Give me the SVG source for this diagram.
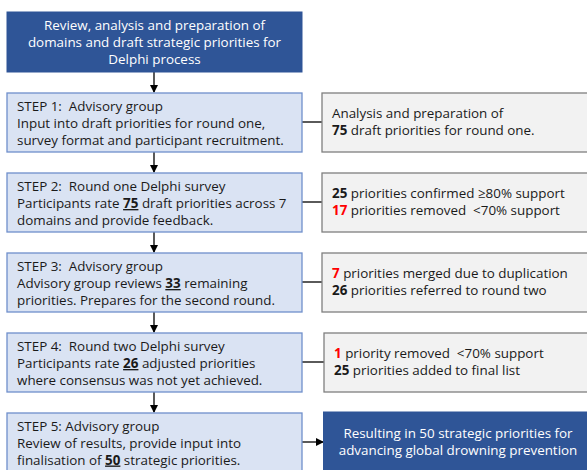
<svg xmlns="http://www.w3.org/2000/svg" width="587" height="470" viewBox="0 0 587 470">
<style>
text{font-family:"Open Sans","Noto Sans","DejaVu Sans",sans-serif;font-size:13.4px;fill:#1a1a1a;white-space:pre}
.hdr{fill:#2F5597;stroke:#2F5597;stroke-width:1}
.hdr-t{fill:#ffffff;text-anchor:middle}
.step{fill:#DAE3F3;stroke:#6F8FCB;stroke-width:1.3}
.info{fill:#F2F2F2;stroke:#7F7F7F;stroke-width:1.3}
.b{font-weight:bold}
.u{font-weight:bold;text-decoration:underline}
.r{font-weight:bold;fill:#FF0000}
.ln{stroke:#000;stroke-width:1.3;fill:none}
</style>
<defs>
<marker id="ah" markerWidth="8" markerHeight="8" refX="7" refY="4" orient="auto" markerUnits="userSpaceOnUse">
<path d="M0,0 L8,4 L0,8 Z" fill="#000"/>
</marker>
</defs>
<g id="connectors">
<line class="ln" x1="154" y1="72" x2="154" y2="92" marker-end="url(#ah)"/>
<line class="ln" x1="154" y1="152" x2="154" y2="172" marker-end="url(#ah)"/>
<line class="ln" x1="154" y1="232" x2="154" y2="252" marker-end="url(#ah)"/>
<line class="ln" x1="154" y1="312" x2="154" y2="332" marker-end="url(#ah)"/>
<line class="ln" x1="154" y1="392" x2="154" y2="412" marker-end="url(#ah)"/>
<line class="ln" x1="302" y1="122" x2="322" y2="122"/>
<line class="ln" x1="302" y1="202" x2="322" y2="202"/>
<line class="ln" x1="302" y1="282" x2="322" y2="282"/>
<line class="ln" x1="302" y1="362" x2="324" y2="362"/>
<line class="ln" x1="302" y1="442" x2="323" y2="442" marker-end="url(#ah)"/>
</g>
<g id="start">
<rect class="hdr" x="7" y="12" width="295" height="60"/>
<text class="hdr-t" x="154.5" y="30">Review, analysis and preparation of</text>
<text class="hdr-t" x="154.5" y="47">domains and draft strategic priorities for</text>
<text class="hdr-t" x="154.5" y="64">Delphi process</text>
</g>
<g id="step1">
<rect class="step" x="7" y="93" width="295" height="59"/>
<text x="17" y="111">STEP 1:  Advisory group</text>
<text x="17" y="128">Input into draft priorities for round one,</text>
<text x="17" y="144.5">survey format and participant recruitment.</text>
</g>
<g id="info1">
<rect class="info" x="322" y="93" width="275" height="59"/>
<text x="332" y="118">Analysis and preparation of</text>
<text x="332" y="135"><tspan class="b">75</tspan> draft priorities for round one.</text>
</g>
<g id="step2">
<rect class="step" x="7" y="173" width="295" height="59"/>
<text x="17" y="191">STEP 2:  Round one Delphi survey</text>
<text x="17" y="208">Participants rate <tspan class="u">75</tspan> draft priorities across 7</text>
<text x="17" y="224.5">domains and provide feedback.</text>
</g>
<g id="info2">
<rect class="info" x="322" y="173" width="275" height="59"/>
<text x="332" y="198"><tspan class="b">25</tspan> priorities confirmed ≥80% support</text>
<text x="332" y="215"><tspan class="r">17</tspan> priorities removed  &lt;70% support</text>
</g>
<g id="step3">
<rect class="step" x="7" y="253" width="295" height="59"/>
<text x="17" y="271">STEP 3:  Advisory group</text>
<text x="17" y="288">Advisory group reviews <tspan class="u">33</tspan> remaining</text>
<text x="17" y="304.5">priorities. Prepares for the second round.</text>
</g>
<g id="info3">
<rect class="info" x="322" y="253" width="275" height="59"/>
<text x="332" y="278"><tspan class="r">7</tspan> priorities merged due to duplication</text>
<text x="332" y="295"><tspan class="b">26</tspan> priorities referred to round two</text>
</g>
<g id="step4">
<rect class="step" x="7" y="333" width="295" height="59"/>
<text x="17" y="351">STEP 4:  Round two Delphi survey</text>
<text x="17" y="368">Participants rate <tspan class="u">26</tspan> adjusted priorities</text>
<text x="17" y="384.5">where consensus was not yet achieved.</text>
</g>
<g id="info4">
<rect class="info" x="324" y="333" width="273" height="59"/>
<text x="334" y="358"><tspan class="r">1</tspan> priority removed  &lt;70% support</text>
<text x="334" y="375"><tspan class="b">25</tspan> priorities added to final list</text>
</g>
<g id="step5">
<rect class="step" x="7" y="413" width="295" height="70"/>
<text x="17" y="431">STEP 5: Advisory group</text>
<text x="17" y="448">Review of results, provide input into</text>
<text x="17" y="464.5">finalisation of <tspan class="u">50</tspan> strategic priorities.</text>
</g>
<g id="result">
<rect class="hdr" x="323.5" y="412" width="270" height="70"/>
<text class="hdr-t" x="458" y="438">Resulting in 50 strategic priorities for</text>
<text class="hdr-t" x="458" y="455">advancing global drowning prevention</text>
</g>
</svg>
